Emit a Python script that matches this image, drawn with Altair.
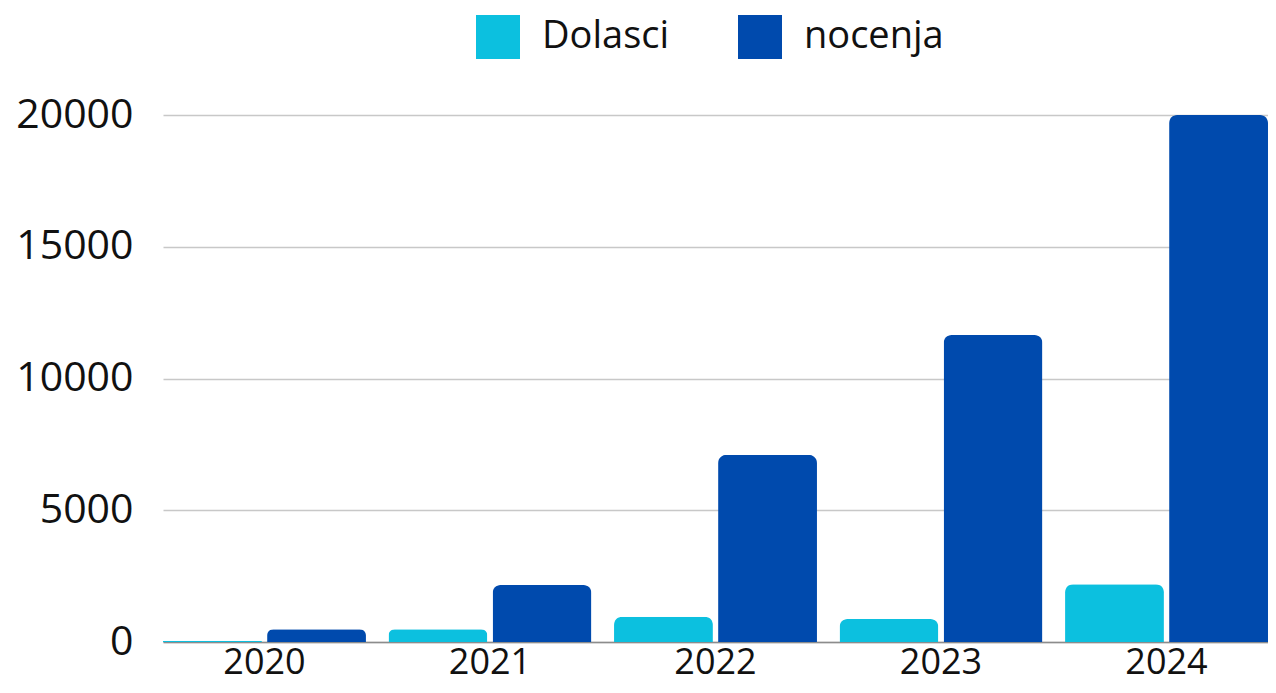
import altair as alt
import pandas as pd

years = ["2020", "2021", "2022", "2023", "2024"]
dolasci = [50, 480, 960, 870, 2190]
nocenja = [480, 2160, 7100, 11650, 20000]
series = ["Dolasci", "nocenja"]
colors = ["#0CC0DF", "#004AAD"]
y_ticks = [0, 5000, 10000, 15000, 20000]

rows = []
for i, yr in enumerate(years):
    rows.append({"year": yr, "series": series[0], "value": dolasci[i]})
    rows.append({"year": yr, "series": series[1], "value": nocenja[i]})
df = pd.DataFrame(rows)

font = "Open Sans"
txt = "#111111"

chart = alt.Chart(df).mark_bar(cornerRadiusTopLeft=8, cornerRadiusTopRight=8).encode(
    x=alt.X("year:N", title=None, sort=years,
            scale=alt.Scale(paddingInner=0.1, paddingOuter=0),
            axis=alt.Axis(labelAngle=0, ticks=False, domain=True, domainColor="#8c8c8c",
                          domainWidth=1.5, labelFontSize=36, labelPadding=3,
                          labelColor=txt, labelFont=font, grid=False)),
    xOffset=alt.XOffset("series:N", sort=series, scale=alt.Scale(paddingInner=0.05)),
    y=alt.Y("value:Q", title=None, scale=alt.Scale(domain=[0, 20000], nice=False),
            axis=alt.Axis(values=y_ticks, format="d", domain=False, ticks=False,
                          labelPadding=30, labelFontSize=41, labelColor=txt, labelFont=font,
                          grid=True, gridColor="#c8c8c8", gridWidth=1.5)),
    color=alt.Color("series:N", sort=series,
                    scale=alt.Scale(domain=series, range=colors),
                    legend=alt.Legend(title=None, orient="none", legendX=313, legendY=-100,
                                      direction="horizontal", symbolType="square",
                                      symbolSize=1936, symbolStrokeWidth=0,
                                      labelFontSize=38, labelFont=font, labelColor=txt,
                                      labelOffset=22, columnPadding=68, padding=0)),
).properties(
    width=1105, height=527,
    padding={"left": 155, "top": 107, "right": 0, "bottom": 43},
    autosize=alt.AutoSizeParams(type="none"),
).configure_view(stroke=None)

chart.save("out.html", embed_options={"renderer": "svg", "actions": False})
